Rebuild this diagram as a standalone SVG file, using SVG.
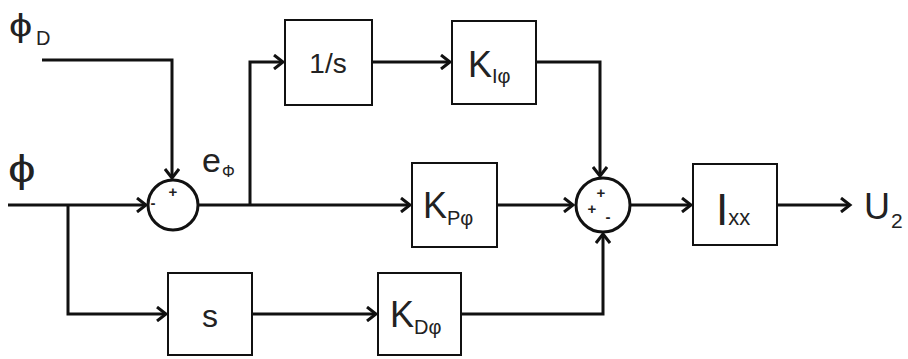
<svg xmlns="http://www.w3.org/2000/svg" width="908" height="359" viewBox="0 0 908 359">
<style>
.blk{fill:#fff;stroke:#111;stroke-width:2}
.ln{fill:none;stroke:#111;stroke-width:3;stroke-linejoin:miter}
.t{font-family:"Liberation Sans",Arial,sans-serif;fill:#222}
.sg{font-family:"Liberation Sans",Arial,sans-serif;fill:#222;font-size:15px;font-weight:bold}
</style>
<defs>
<marker id="ar" markerWidth="14" markerHeight="16" refX="11" refY="8" orient="auto" markerUnits="userSpaceOnUse">
<path d="M2,1 L11,8 L2,15" fill="none" stroke="#111" stroke-width="3"/>
</marker>
</defs>
<rect width="908" height="359" fill="#fff"/>
<g id="connectors">
<path class="ln" d="M42,60 H172 V178" marker-end="url(#ar)"/>
<path class="ln" d="M8,205 H146" marker-end="url(#ar)"/>
<path class="ln" d="M68,205 V314 H166" marker-end="url(#ar)"/>
<path class="ln" d="M252,314 H376" marker-end="url(#ar)"/>
<path class="ln" d="M461,314 H603 V234" marker-end="url(#ar)"/>
<path class="ln" d="M198,205 H410" marker-end="url(#ar)"/>
<path class="ln" d="M250,205 V62 H283" marker-end="url(#ar)"/>
<path class="ln" d="M372,62 H450" marker-end="url(#ar)"/>
<path class="ln" d="M536,62 H600 V176" marker-end="url(#ar)"/>
<path class="ln" d="M497,205 H573" marker-end="url(#ar)"/>
<path class="ln" d="M631,205 H691" marker-end="url(#ar)"/>
<path class="ln" d="M777,205 H850" marker-end="url(#ar)"/>
</g>
<g id="labels">
<text class="t" font-size="32" transform="translate(9,36) scale(1.3,1)">ϕ</text>
<text class="t" x="36" y="45" font-size="20">D</text>
<text class="t" font-size="38" transform="translate(8,182) scale(1.3,1)">ϕ</text>
<text class="t" x="202" y="172" font-size="34">e<tspan font-size="16" x="222" y="177">Φ</tspan></text>
<text class="t" x="864" y="219" font-size="36">U</text>
<text class="t" x="891" y="228" font-size="21">2</text>
</g>
<g id="sum1">
<circle cx="173" cy="205" r="25" fill="#fff" stroke="#111" stroke-width="3"/>
<text class="sg" x="173" y="197" text-anchor="middle">+</text>
<text class="sg" x="153" y="208" text-anchor="middle">-</text>
</g>
<g id="sum2">
<circle cx="603" cy="205" r="27" fill="#fff" stroke="#111" stroke-width="3"/>
<text class="sg" x="601" y="198" text-anchor="middle">+</text>
<text class="sg" x="592" y="214" text-anchor="middle">+</text>
<text class="sg" x="608" y="222" text-anchor="middle">-</text>
</g>
<g id="int">
<rect class="blk" x="285" y="20" width="87" height="85"/>
<text class="t" x="328" y="73" font-size="28" text-anchor="middle">1/s</text>
</g>
<g id="ki">
<rect class="blk" x="452" y="21" width="84" height="83"/>
<text class="t" x="468" y="77" font-size="36">K<tspan font-size="20" dy="6">Iφ</tspan></text>
</g>
<g id="kp">
<rect class="blk" x="412" y="163" width="85" height="84"/>
<text class="t" x="423" y="218" font-size="36">K<tspan font-size="20" dy="7">Pφ</tspan></text>
</g>
<g id="ixx">
<rect class="blk" x="693" y="164" width="84" height="81"/>
<text class="t" x="716" y="225" font-size="44">I<tspan font-size="22" dy="0">xx</tspan></text>
</g>
<g id="s">
<rect class="blk" x="168" y="273" width="84" height="82"/>
<text class="t" x="210" y="327" font-size="32" text-anchor="middle">s</text>
</g>
<g id="kd">
<rect class="blk" x="378" y="273" width="83" height="82"/>
<text class="t" x="390" y="327" font-size="36">K<tspan font-size="20" dy="7">Dφ</tspan></text>
</g>
</svg>
